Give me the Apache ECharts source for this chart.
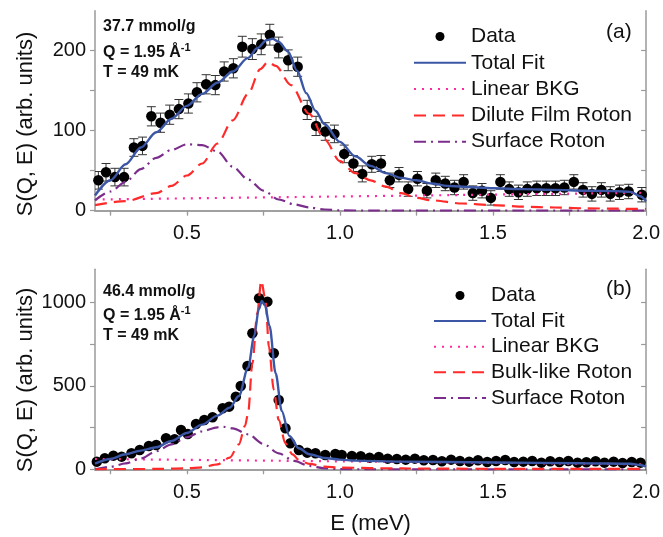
<!DOCTYPE html>
<html>
<head>
<meta charset="utf-8">
<script src="https://cdn.jsdelivr.net/npm/echarts@6/dist/echarts.min.js"></script>
<style>html,body{margin:0;padding:0;background:#fff}#c{width:663px;height:537px}</style>
</head>
<body>
<div id="c"></div>
<script>
// ---------- Panel (a) data ----------
const E_A = [0.211,0.236,0.265,0.295,0.327,0.355,0.384,0.414,0.444,0.474,0.505,0.533,0.563,0.593,0.622,0.652,0.681,0.714,0.743,0.771,0.800,0.831,0.862,0.893,0.922,0.952,0.982,1.014,1.044,1.073,1.104,1.134,1.163,1.193,1.223,1.253,1.284,1.313,1.344,1.374,1.404,1.434,1.464,1.493,1.524,1.553,1.583,1.612,1.643,1.674,1.704,1.733,1.764,1.794,1.823,1.854,1.883,1.913,1.943,1.986];
const S_A = [38,48,42,42,79,81,118,110,120,127,134,148,158,157,174,178,205,202,208,220,204,188,180,126,106,99,96,71,59,46,58,59,38,45,27,40,25,38,34,29,36,22,25,16,36,27,23,27,28,28,28,29,36,26,21,26,21,23,24,20];
const ERR_A = [11,11,11,11,11,11,12,12,12,12,12,12,12,12,12,12,13,13,13,13,13,13,12,12,12,11,11,11,10,10,10,10,9,9,9,9,9,9,9,9,9,9,9,9,9,9,9,9,9,9,9,9,9,9,9,9,9,9,9,9];
const FIT_A_TOTAL = [[0.20,19],[0.25,38],[0.30,58],[0.35,79],[0.40,98],[0.45,115],[0.50,131],[0.55,146],[0.60,160],[0.65,174],[0.70,191],[0.73,203],[0.76,213],[0.78,215],[0.80,211],[0.83,199],[0.86,175],[0.89,147],[0.92,125],[0.95,108],[1.00,86],[1.05,68],[1.10,56],[1.15,47],[1.20,41],[1.25,38],[1.30,34],[1.35,31],[1.40,30],[1.50,28],[1.60,27],[1.70,26],[1.80,25],[1.90,24.5],[1.95,23.5],[1.98,18],[2.00,12]];
const FIT_A_BKG = [[0.2,14],[2.0,22.5]];
const FIT_A_ROTON = [[0.2,7],[0.3,12],[0.4,22],[0.45,31],[0.5,44],[0.55,59],[0.6,84],[0.65,113],[0.7,146],[0.74,177],[0.765,186],[0.79,181],[0.84,157],[0.9,121],[0.95,89],[1.0,62],[1.05,47],[1.1,38],[1.15,30],[1.2,22],[1.25,16],[1.3,13],[1.4,9],[1.5,7],[1.6,5],[1.7,4],[1.8,3],[1.9,2.5],[2.0,2]];
const FIT_A_SURF = [[0.2,13],[0.25,24],[0.3,36],[0.35,52],[0.4,66],[0.45,76],[0.5,83],[0.55,82],[0.6,74],[0.65,55],[0.7,39],[0.75,25],[0.8,14],[0.85,8],[0.9,4],[0.95,1.5],[1.0,0.5],[1.1,0],[2.0,0]];

// ---------- Panel (b) data ----------
const E_B = [0.206,0.232,0.260,0.287,0.319,0.346,0.376,0.400,0.432,0.460,0.481,0.503,0.530,0.557,0.584,0.617,0.638,0.660,0.676,0.698,0.714,0.736,0.763,0.784,0.800,0.822,0.838,0.866,0.893,0.920,0.952,0.985,1.006,1.039,1.068,1.097,1.127,1.156,1.186,1.215,1.245,1.274,1.304,1.333,1.363,1.392,1.422,1.451,1.481,1.510,1.540,1.569,1.599,1.628,1.658,1.687,1.717,1.746,1.776,1.805,1.835,1.864,1.894,1.923,1.953,1.982];
const S_B = [46,66,82,76,96,116,140,146,186,180,236,212,272,296,312,366,376,436,500,620,816,1026,1006,696,416,246,156,116,100,96,86,92,86,80,78,70,74,64,62,58,64,54,56,48,58,50,46,54,44,50,56,44,46,50,40,48,44,50,40,42,48,40,46,38,44,40];
const FIT_B_TOTAL = [[0.2,34],[0.25,62],[0.3,90],[0.35,112],[0.4,132],[0.45,170],[0.5,218],[0.55,268],[0.6,322],[0.64,370],[0.67,440],[0.70,610],[0.72,800],[0.735,960],[0.745,1010],[0.755,985],[0.77,860],[0.79,576],[0.81,350],[0.835,200],[0.866,126],[0.9,90],[0.95,68],[1.0,58],[1.05,52],[1.2,46],[1.5,41],[1.8,36],[1.95,33],[1.98,26],[2.0,16]];
const FIT_B_BKG = [[0.2,62],[2.0,30]];
const FIT_B_ROTON = [[0.2,0],[0.4,2],[0.5,6],[0.55,12],[0.6,30],[0.64,70],[0.67,150],[0.69,260],[0.70,336],[0.714,636],[0.73,936],[0.743,1130],[0.757,1016],[0.768,736],[0.784,476],[0.8,296],[0.822,156],[0.845,90],[0.866,56],[0.9,32],[0.95,16],[1.0,10],[1.2,5],[1.5,3],[2.0,2]];
const FIT_B_SURF = [[0.2,0],[0.25,15],[0.3,35],[0.35,65],[0.4,108],[0.45,150],[0.5,192],[0.55,228],[0.6,252],[0.62,255],[0.65,246],[0.7,210],[0.75,152],[0.8,96],[0.85,50],[0.9,20],[0.95,6],[1.0,1],[1.1,0],[2.0,0]];

// ---------- Tick values ----------
const X_TICKS_MAJOR = [0.25,0.5,0.75,1.0,1.25,1.5,1.75,2.0];
const X_TICKS_TOP = [0.25,0.5,0.75,1.0,1.25,1.5,1.75];
const X_LABELS = [0.5,1.0,1.5,2.0];
const Y_A_TICKS = [0,50,100,150,200];
const Y_A_LABELS = [0,100,200];
const Y_B_TICKS = [0,250,500,750,1000];
const Y_B_LABELS = [0,500,1000];

const FONT = 'Liberation Sans, Arial, sans-serif';
const AXC = '#9a9a9a';
const TXT = '#111';
const BLUE = '#3c56a6';
const PINK = '#ff2a9d';
const RED = '#ff2a2a';
const PURPLE = '#7b2d8b';

const chart = echarts.init(document.getElementById('c'), null, {renderer: 'canvas'});

function xBottom(gi, withName) {
  return {
    type: 'value', gridIndex: gi, min: 0.2, max: 2.0, position: 'bottom',
    axisLine: {show: true, lineStyle: {color: AXC, width: 1.5}},
    axisTick: {show: true, customValues: X_TICKS_MAJOR, length: 5, inside: false, lineStyle: {color: AXC, width: 1.2}},
    axisLabel: {show: true, customValues: X_LABELS, formatter: v => v.toFixed(1), fontSize: 20, fontFamily: FONT, color: TXT, margin: 13},
    splitLine: {show: false},
    name: withName ? 'E (meV)' : '', nameLocation: 'middle', nameGap: 44,
    nameTextStyle: {fontSize: 22, fontFamily: FONT, color: TXT}
  };
}
function xTop(gi) {
  return {
    type: 'value', gridIndex: gi, min: 0.2, max: 2.0, position: 'top',
    axisLine: {show: true, lineStyle: {color: AXC, width: 1.5}},
    axisTick: {show: true, customValues: X_TICKS_TOP, length: 4, inside: true, lineStyle: {color: AXC, width: 1.2}},
    axisLabel: {show: false}, splitLine: {show: false}
  };
}
function yLeft(gi, max, ticks, labels) {
  return {
    type: 'value', gridIndex: gi, min: 0, max: max, position: 'left',
    axisLine: {show: true, lineStyle: {color: AXC, width: 1.5}},
    axisTick: {show: true, customValues: ticks, length: 5, inside: false, lineStyle: {color: AXC, width: 1.2}},
    axisLabel: {show: true, customValues: labels, formatter: v => String(v), fontSize: 20, fontFamily: FONT, color: TXT, margin: 9},
    splitLine: {show: false}
  };
}
function yRight(gi, max, ticks) {
  return {
    type: 'value', gridIndex: gi, min: 0, max: max, position: 'right',
    axisLine: {show: true, lineStyle: {color: AXC, width: 1.5}},
    axisTick: {show: true, customValues: ticks, length: 5, inside: true, lineStyle: {color: AXC, width: 1.2}},
    axisLabel: {show: false}, splitLine: {show: false}
  };
}

function errorSeries(xi, yi, E, S, ERR) {
  return {
    type: 'custom', name: 'err', xAxisIndex: xi, yAxisIndex: yi, z: 2, silent: true,
    data: E.map((e, i) => [e, S[i] - ERR[i], S[i] + ERR[i]]),
    renderItem: function (params, api) {
      const lo = api.coord([api.value(0), api.value(1)]);
      const hi = api.coord([api.value(0), api.value(2)]);
      const w = 4.5;
      const st = {stroke: '#333', lineWidth: 1};
      return {type: 'group', children: [
        {type: 'line', shape: {x1: lo[0], y1: lo[1], x2: hi[0], y2: hi[1]}, style: st},
        {type: 'line', shape: {x1: lo[0]-w, y1: lo[1], x2: lo[0]+w, y2: lo[1]}, style: st},
        {type: 'line', shape: {x1: hi[0]-w, y1: hi[1], x2: hi[0]+w, y2: hi[1]}, style: st}
      ]};
    },
    clip: true
  };
}
function dataSeries(xi, yi, E, S) {
  return {type: 'scatter', name: 'Data', xAxisIndex: xi, yAxisIndex: yi, z: 3,
    symbol: 'circle', symbolSize: 10.5, itemStyle: {color: '#000', opacity: 1},
    data: E.map((e, i) => [e, S[i]])};
}
function lineSeries(name, xi, yi, data, color, type, width, z) {
  return {type: 'line', name: name, xAxisIndex: xi, yAxisIndex: yi, z: z,
    data: data, symbol: 'none', showSymbol: false, smooth: 0.3, smoothMonotone: 'x',
    lineStyle: {color: color, width: width, type: type}, itemStyle: {color: color}, clip: true};
}

const legendCommon = {
  orient: 'vertical', itemWidth: 52, itemHeight: 9, selectedMode: false,
  textStyle: {fontSize: 21, fontFamily: FONT, color: TXT}
};
function legendItems(names) {
  return names.map(n => n === 'Data'
    ? {name: n, icon: 'circle', itemStyle: {color: '#000', opacity: 1}}
    : {name: n, itemStyle: {opacity: 0}});
}

const option = {
  animation: false,
  backgroundColor: '#fff',
  grid: [
    {left: 95, top: 10.7, width: 554, height: 200},
    {left: 95, top: 269.3, width: 554, height: 200}
  ],
  xAxis: [xBottom(0, false), xTop(0), xBottom(1, true), xTop(1)],
  yAxis: [yLeft(0, 250, Y_A_TICKS, Y_A_LABELS), yRight(0, 250, Y_A_TICKS),
          yLeft(1, 1200, Y_B_TICKS, Y_B_LABELS), yRight(1, 1200, Y_B_TICKS)],
  legend: [
    Object.assign({}, legendCommon, {left: 408, top: 21, itemGap: 5.3,
      data: legendItems(['Data', 'Total Fit', 'Linear BKG', 'Dilute Film Roton', 'Surface Roton'])}),
    Object.assign({}, legendCommon, {left: 428, top: 280, itemGap: 4.6,
      data: legendItems(['Data', 'Total Fit', 'Linear BKG', 'Bulk-like Roton', 'Surface Roton'])})
  ],
  graphic: [
    {type: 'text', x: 26, y: 124, rotation: Math.PI / 2, style: {text: 'S(Q, E) (arb. units)', font: '22px Liberation Sans, Arial', fill: TXT, align: 'center', verticalAlign: 'middle'}},
    {type: 'text', x: 26, y: 380, rotation: Math.PI / 2, style: {text: 'S(Q, E) (arb. units)', font: '22px Liberation Sans, Arial', fill: TXT, align: 'center', verticalAlign: 'middle'}},
    {type: 'text', left: 103, top: 19, style: {text: '37.7 mmol/g', font: 'bold 16px Liberation Sans, Arial', fill: TXT}},
    {type: 'text', left: 103, top: 42, style: {text: '{n|Q = 1.95 Å}{s|-1}', fill: TXT,
      rich: {n: {font: 'bold 16px Liberation Sans, Arial', fill: TXT, verticalAlign: 'bottom'}, s: {font: 'bold 11px Liberation Sans, Arial', fill: TXT, verticalAlign: 'top', padding: [0,0,8,0]}}}},
    {type: 'text', left: 103, top: 65, style: {text: 'T = 49 mK', font: 'bold 16px Liberation Sans, Arial', fill: TXT}},
    {type: 'text', left: 606, top: 22, style: {text: '(a)', font: '21px Liberation Sans, Arial', fill: TXT}},
    {type: 'text', left: 103, top: 284, style: {text: '46.4 mmol/g', font: 'bold 16px Liberation Sans, Arial', fill: TXT}},
    {type: 'text', left: 103, top: 305, style: {text: '{n|Q = 1.95 Å}{s|-1}', fill: TXT,
      rich: {n: {font: 'bold 16px Liberation Sans, Arial', fill: TXT, verticalAlign: 'bottom'}, s: {font: 'bold 11px Liberation Sans, Arial', fill: TXT, verticalAlign: 'top', padding: [0,0,8,0]}}}},
    {type: 'text', left: 103, top: 328, style: {text: 'T = 49 mK', font: 'bold 16px Liberation Sans, Arial', fill: TXT}},
    {type: 'text', left: 606, top: 279, style: {text: '(b)', font: '21px Liberation Sans, Arial', fill: TXT}}
  ],
  series: [
    errorSeries(0, 0, E_A, S_A, ERR_A),
    dataSeries(0, 0, E_A, S_A),
    lineSeries('Linear BKG', 0, 0, FIT_A_BKG, PINK, [2, 6], 2.2, 4),
    lineSeries('Surface Roton', 0, 0, FIT_A_SURF, PURPLE, [12, 5, 2, 5], 2.2, 4),
    lineSeries('Dilute Film Roton', 0, 0, FIT_A_ROTON, RED, [12, 7], 2.2, 4),
    lineSeries('Total Fit', 0, 0, FIT_A_TOTAL, BLUE, 'solid', 2.4, 5),

    dataSeries(2, 2, E_B, S_B),
    lineSeries('Linear BKG', 2, 2, FIT_B_BKG, PINK, [2, 6], 2.2, 4),
    lineSeries('Surface Roton', 2, 2, FIT_B_SURF, PURPLE, [12, 5, 2, 5], 2.2, 4),
    lineSeries('Bulk-like Roton', 2, 2, FIT_B_ROTON, RED, [12, 7], 2.2, 4),
    lineSeries('Total Fit', 2, 2, FIT_B_TOTAL, BLUE, 'solid', 2.4, 5)
  ]
};
chart.setOption(option);
</script>
</body>
</html>
